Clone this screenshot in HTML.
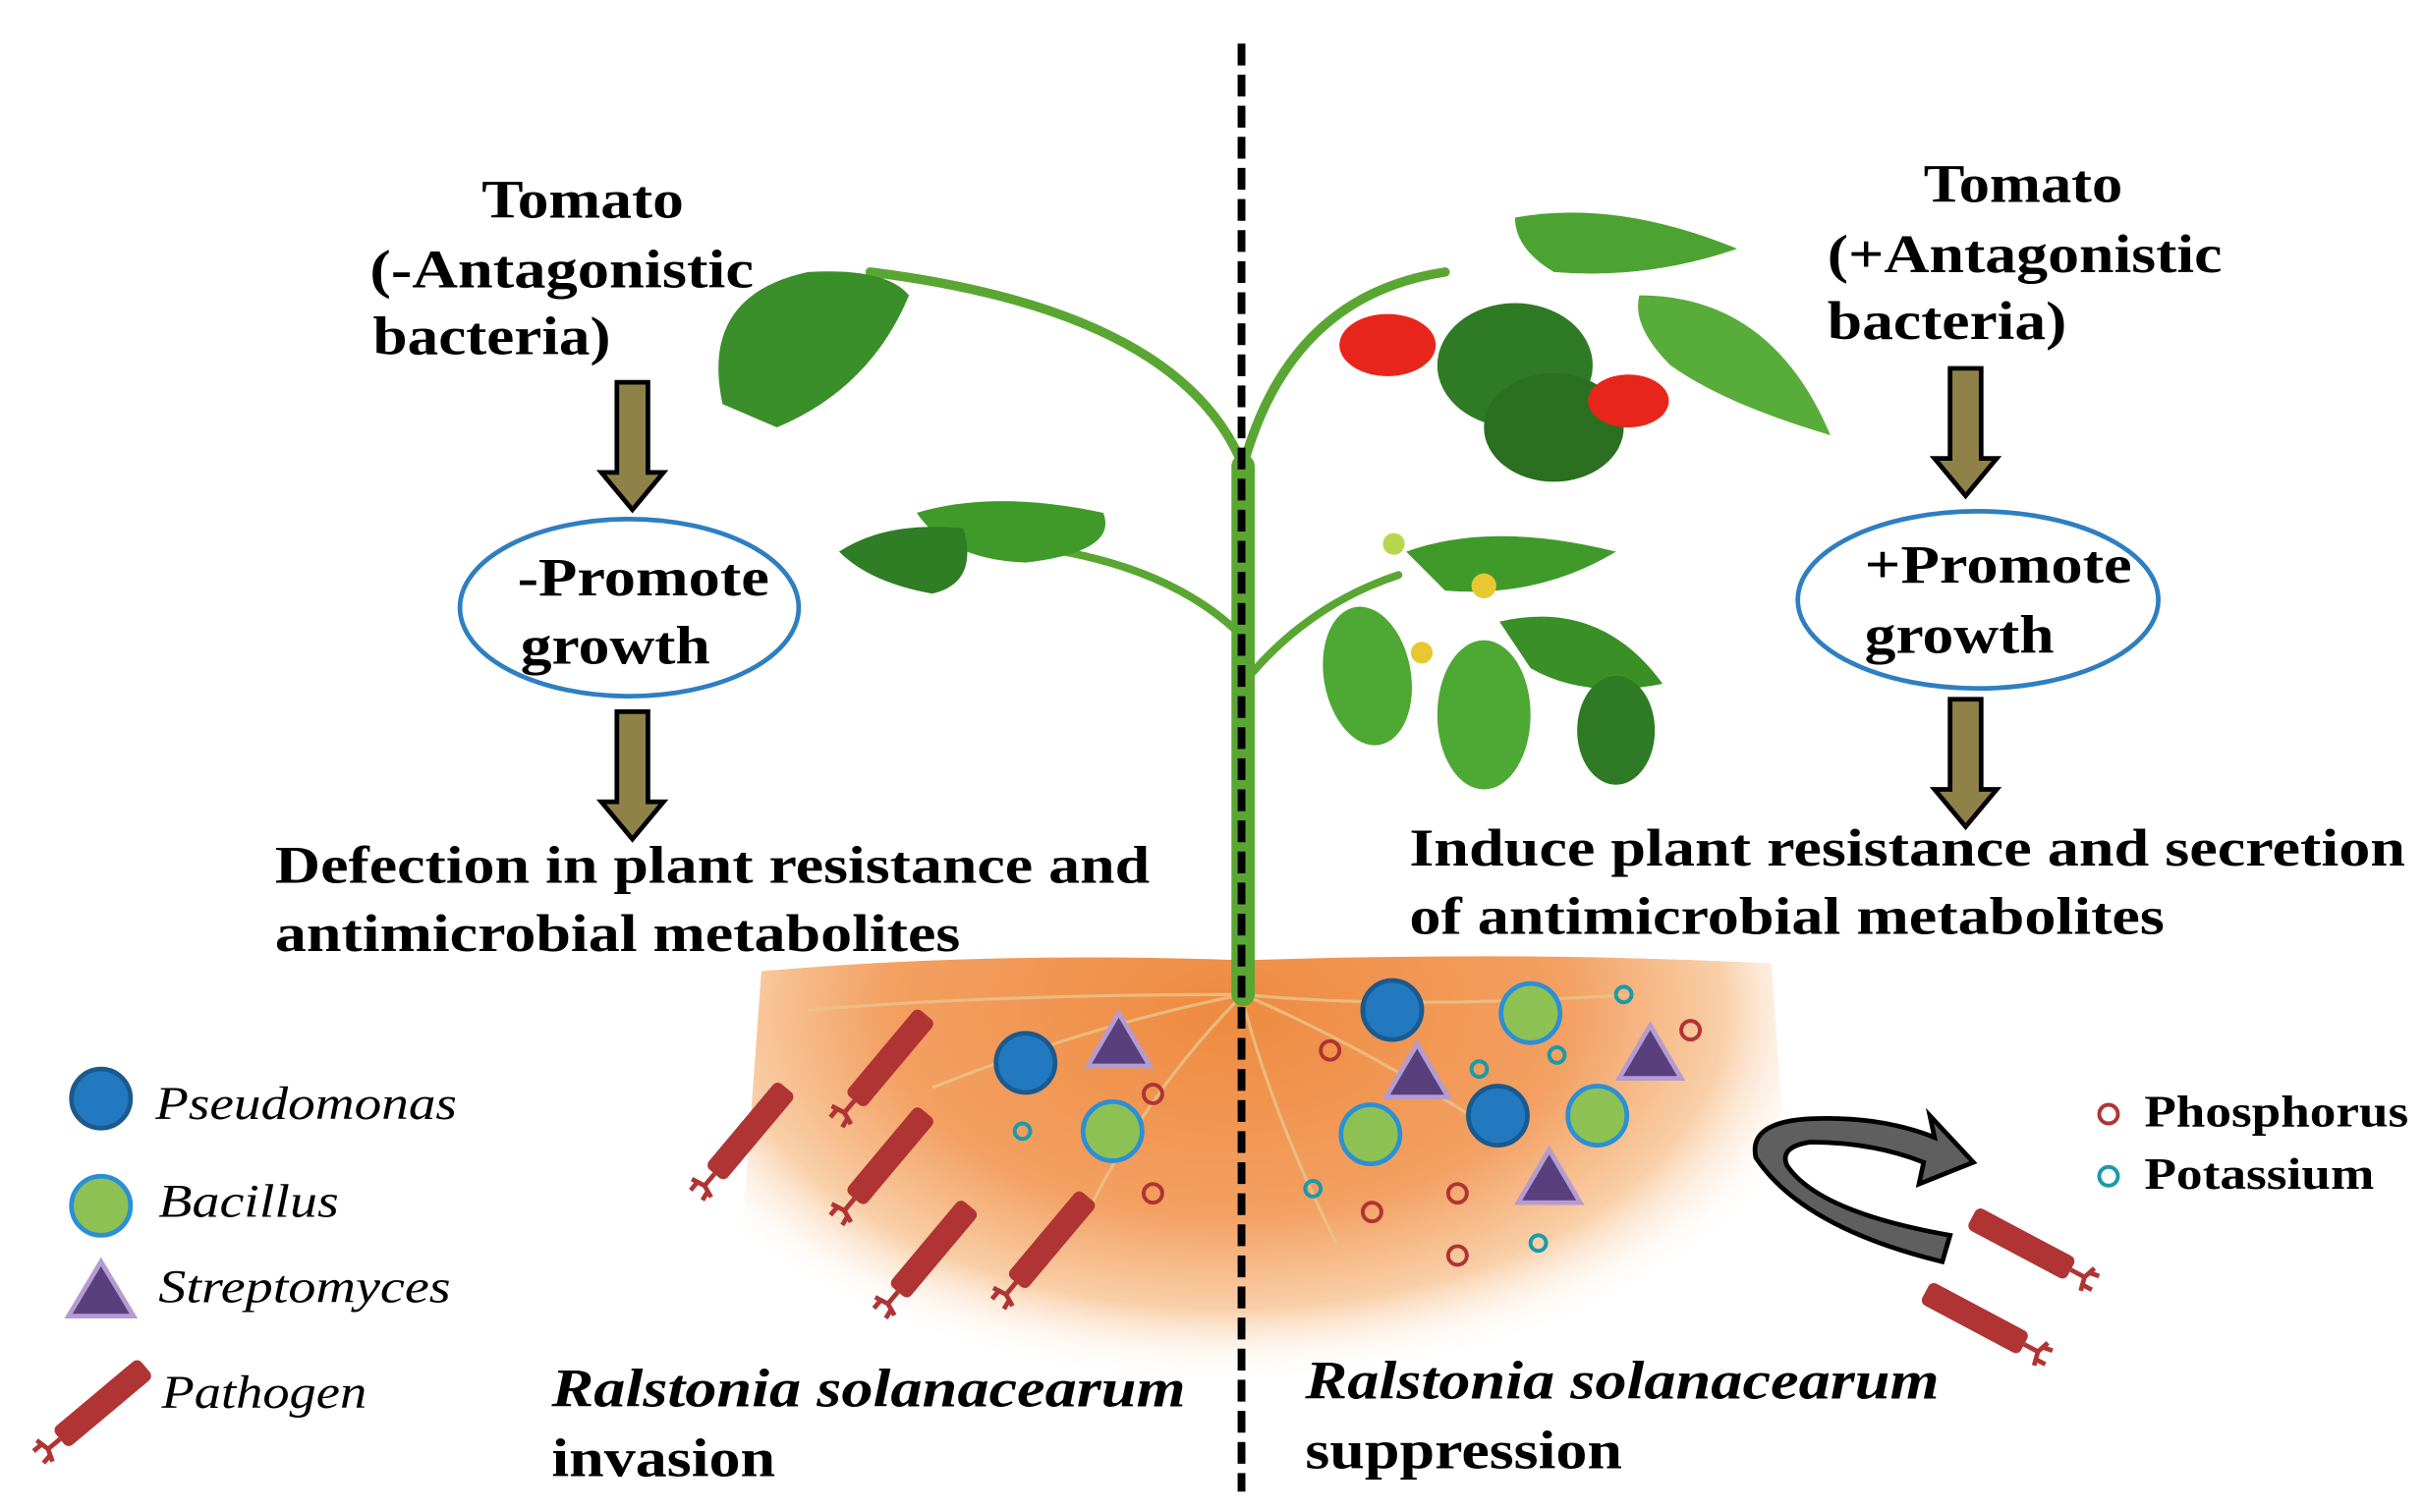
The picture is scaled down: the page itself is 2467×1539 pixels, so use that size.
<!DOCTYPE html>
<html><head><meta charset="utf-8"><style>
html,body{margin:0;padding:0;background:#fff;}
svg{display:block;}
text{font-family:"Liberation Serif",serif;}
.b{font-weight:bold;fill:#000;}
.i{font-style:italic;}
</style></head><body>
<svg width="2467" height="1539" viewBox="0 0 1560 973" xmlns="http://www.w3.org/2000/svg">
<defs>
<radialGradient id="soil" cx="0.5" cy="0.5" r="0.5">
<stop offset="0" stop-color="#ee8a40"/>
<stop offset="0.55" stop-color="#f3a062"/>
<stop offset="0.8" stop-color="#f9cfa8"/>
<stop offset="1" stop-color="#fff" stop-opacity="0"/>
</radialGradient>
<clipPath id="sc"><path d="M490 625 Q640 612 800 618 Q980 612 1140 620 L1160 900 L470 900 Z"/></clipPath>
<g id="path">
<rect x="-8" y="-78" width="16" height="72" rx="4" fill="#b03434"/>
<path d="M0 -6 L0 4 M0 4 L-9 6 M0 4 L8 7 M-5 5 L-5 12 M4 6 L5 12" stroke="#b03434" stroke-width="3" fill="none"/>
</g>
<g id="arrow">
<path d="M-10 0 L10 0 L10 58 L20 58 L0 82 L-20 58 L-10 58 Z" fill="#8f8248" stroke="#000" stroke-width="3"/>
</g>
</defs>

<!-- soil -->
<g clip-path="url(#sc)">
<ellipse cx="790" cy="650" rx="400" ry="240" fill="url(#soil)"/>
</g>
<g stroke="#e9c48b" stroke-width="2" fill="none" opacity="0.8">
<path d="M800 640 Q700 660 600 700 M800 640 Q740 700 700 780 M800 640 Q870 670 950 720 M800 640 Q900 650 1050 640 M800 645 Q820 720 860 800 M800 640 Q640 640 520 650"/>
</g>

<!-- plant stems -->
<g stroke="#5aa632" fill="none" stroke-linecap="round">
<path d="M800 640 L800 300" stroke-width="15"/>
<path d="M800 300 Q760 200 560 175" stroke-width="6"/>
<path d="M800 300 Q830 190 930 175" stroke-width="6"/>
<path d="M800 410 Q750 360 650 350" stroke-width="5"/>
<path d="M800 440 Q840 390 900 370" stroke-width="5"/>
</g>
<!-- leaves -->
<g fill="#3f9a2a">
<path d="M465 260 Q450 190 520 175 Q570 172 585 190 Q560 250 500 275 Z" fill="#3b8f2a"/>
<path d="M590 330 Q640 315 710 330 Q720 355 660 362 Q610 360 590 330 Z"/>
<path d="M540 355 Q570 335 620 340 Q630 375 600 382 Q560 375 540 355 Z" fill="#2f7d25"/>
<path d="M975 140 Q1040 128 1118 160 Q1060 180 1000 175 Q975 160 975 140 Z" fill="#4da332"/>
<ellipse cx="975" cy="235" rx="50" ry="40" fill="#2f7a24"/>
<ellipse cx="1000" cy="275" rx="45" ry="35" fill="#2a7020"/>
<path d="M1055 190 Q1140 190 1178 280 Q1110 260 1075 235 Q1050 210 1055 190 Z" fill="#58ad3a"/>
<path d="M905 355 Q960 335 1040 355 Q990 385 930 380 Z" fill="#3f9a2a"/>
<ellipse cx="880" cy="435" rx="28" ry="45" transform="rotate(-10 880 435)" fill="#4ea834"/>
<path d="M965 400 Q1030 385 1070 440 Q1020 450 985 430 Z" fill="#3a8f27"/>
<ellipse cx="955" cy="460" rx="30" ry="48" fill="#4ea834"/>
<ellipse cx="1040" cy="470" rx="25" ry="35" fill="#2f7a24"/>
</g>
<ellipse cx="893" cy="222" rx="31" ry="20" fill="#e8251a"/>
<ellipse cx="1048" cy="258" rx="26" ry="17" fill="#e8251a"/>
<g fill="#e8c830"><circle cx="955" cy="377" r="8"/><circle cx="915" cy="420" r="7"/><circle cx="897" cy="350" r="7" fill="#b7d84a"/></g>

<!-- dashed line -->
<line x1="799" y1="28" x2="799" y2="960" stroke="#000" stroke-width="5" stroke-dasharray="14 6"/>

<!-- left texts -->
<text class="b" x="310" y="140" font-size="35" textLength="130" lengthAdjust="spacingAndGlyphs">Tomato</text>
<text class="b" x="238" y="185" font-size="35" textLength="247" lengthAdjust="spacingAndGlyphs">(-Antagonistic</text>
<text class="b" x="240" y="228" font-size="35" textLength="153" lengthAdjust="spacingAndGlyphs">bacteria)</text>
<use href="#arrow" x="407" y="246"/>
<ellipse cx="405" cy="391" rx="109" ry="57" fill="none" stroke="#2e7fc1" stroke-width="3"/>
<text class="b" x="333" y="383" font-size="35" textLength="162" lengthAdjust="spacingAndGlyphs">-Promote</text>
<text class="b" x="335" y="427" font-size="35" textLength="122" lengthAdjust="spacingAndGlyphs">growth</text>
<use href="#arrow" x="407" y="458"/>
<text class="b" x="177" y="568" font-size="34" textLength="563" lengthAdjust="spacingAndGlyphs">Defection in plant resistance and</text>
<text class="b" x="177" y="612" font-size="34" textLength="441" lengthAdjust="spacingAndGlyphs">antimicrobial metabolites</text>

<!-- right texts -->
<text class="b" x="1238" y="130" font-size="35" textLength="128" lengthAdjust="spacingAndGlyphs">Tomato</text>
<text class="b" x="1176" y="175" font-size="35" textLength="254" lengthAdjust="spacingAndGlyphs">(+Antagonistic</text>
<text class="b" x="1176" y="218" font-size="35" textLength="154" lengthAdjust="spacingAndGlyphs">bacteria)</text>
<use href="#arrow" x="1265" y="237"/>
<ellipse cx="1273" cy="386" rx="116" ry="57" fill="none" stroke="#2e7fc1" stroke-width="3"/>
<text class="b" x="1200" y="375" font-size="35" textLength="172" lengthAdjust="spacingAndGlyphs">+Promote</text>
<text class="b" x="1200" y="420" font-size="35" textLength="122" lengthAdjust="spacingAndGlyphs">growth</text>
<use href="#arrow" x="1265" y="450"/>
<text class="b" x="907" y="557" font-size="34" textLength="641" lengthAdjust="spacingAndGlyphs">Induce plant resistance and secretion</text>
<text class="b" x="907" y="601" font-size="34" textLength="486" lengthAdjust="spacingAndGlyphs">of antimicrobial metabolites</text>

<!-- left soil organisms -->
<g stroke-width="3">
<circle cx="660" cy="684" r="19" fill="#2379bf" stroke="#1a5a8e"/>
<polygon points="720,652 740,686 700,686" fill="#5a3f7e" stroke="#b49bd0"/>
<circle cx="716" cy="728" r="19" fill="#8dc153" stroke="#2a8fd6"/>
</g>
<g fill="none" stroke-width="2.5">
<circle cx="658" cy="728" r="5" stroke="#1a9aaa"/>
<circle cx="742" cy="704" r="6" stroke="#b03434"/>
<circle cx="742" cy="768" r="6" stroke="#b03434"/>
</g>
<use href="#path" transform="translate(456 760) rotate(40)"/>
<use href="#path" transform="translate(546 713) rotate(40)"/>
<use href="#path" transform="translate(546 776) rotate(40)"/>
<use href="#path" transform="translate(574 836) rotate(40)"/>
<use href="#path" transform="translate(650 830) rotate(40)"/>

<!-- right soil organisms -->
<g stroke-width="3">
<circle cx="896" cy="650" r="19" fill="#2379bf" stroke="#1a5a8e"/>
<circle cx="964" cy="718" r="19" fill="#2379bf" stroke="#1a5a8e"/>
<circle cx="985" cy="652" r="19" fill="#8dc153" stroke="#2a8fd6"/>
<circle cx="882" cy="730" r="19" fill="#8dc153" stroke="#2a8fd6"/>
<circle cx="1028" cy="718" r="19" fill="#8dc153" stroke="#2a8fd6"/>
<polygon points="912,672 932,706 892,706" fill="#5a3f7e" stroke="#b49bd0"/>
<polygon points="1062,660 1082,694 1042,694" fill="#5a3f7e" stroke="#b49bd0"/>
<polygon points="997,740 1017,774 977,774" fill="#5a3f7e" stroke="#b49bd0"/>
</g>
<g fill="none" stroke-width="2.5">
<circle cx="856" cy="676" r="6" stroke="#b03434"/>
<circle cx="1088" cy="663" r="6" stroke="#b03434"/>
<circle cx="938" cy="768" r="6" stroke="#b03434"/>
<circle cx="883" cy="780" r="6" stroke="#b03434"/>
<circle cx="938" cy="808" r="6" stroke="#b03434"/>
<circle cx="1045" cy="640" r="5" stroke="#1a9aaa"/>
<circle cx="952" cy="688" r="5" stroke="#1a9aaa"/>
<circle cx="1002" cy="679" r="5" stroke="#1a9aaa"/>
<circle cx="845" cy="765" r="5" stroke="#1a9aaa"/>
<circle cx="990" cy="800" r="5" stroke="#1a9aaa"/>
</g>

<!-- curved arrow -->
<path d="M1250 812 Q1160 790 1130 745 Q1125 722 1165 720 Q1210 718 1245 732 L1242 718 L1270 748 L1235 762 L1238 748 Q1205 735 1165 735 Q1145 738 1150 750 Q1170 780 1255 795 Z" fill="#5f5f5f" stroke="#000" stroke-width="3"/>
<use href="#path" transform="translate(1338 820) rotate(-62)"/>
<use href="#path" transform="translate(1308 868) rotate(-62)"/>

<!-- nutrient legend -->
<circle cx="1357" cy="717" r="6" fill="none" stroke="#b03434" stroke-width="2.5"/>
<circle cx="1357" cy="757" r="6" fill="none" stroke="#1a9aaa" stroke-width="2.5"/>
<text class="b" x="1380" y="725" font-size="29" textLength="170" lengthAdjust="spacingAndGlyphs">Phosphorus</text>
<text class="b" x="1380" y="765" font-size="29" textLength="148" lengthAdjust="spacingAndGlyphs">Potassium</text>

<!-- legend -->
<circle cx="65" cy="707" r="19" fill="#2379bf" stroke="#1a5a8e" stroke-width="3"/>
<circle cx="65" cy="776" r="19" fill="#8dc153" stroke="#2a8fd6" stroke-width="3"/>
<polygon points="65,812 86,847 44,847" fill="#5a3f7e" stroke="#b49bd0" stroke-width="3"/>
<use href="#path" transform="translate(34 930) rotate(50)"/>
<text class="i" x="100" y="720" font-size="30" textLength="194" lengthAdjust="spacingAndGlyphs">Pseudomonas</text>
<text class="i" x="102" y="783" font-size="30" textLength="116" lengthAdjust="spacingAndGlyphs">Bacillus</text>
<text class="i" x="102" y="838" font-size="30" textLength="188" lengthAdjust="spacingAndGlyphs">Streptomyces</text>
<text class="i" x="104" y="906" font-size="30" textLength="132" lengthAdjust="spacingAndGlyphs">Pathogen</text>

<!-- bottom labels -->
<text class="b i" x="355" y="905" font-size="35" textLength="408" lengthAdjust="spacingAndGlyphs">Ralstonia solanacearum</text>
<text class="b" x="355" y="950" font-size="35" textLength="144" lengthAdjust="spacingAndGlyphs">invasion</text>
<text class="b i" x="840" y="900" font-size="35" textLength="408" lengthAdjust="spacingAndGlyphs">Ralstonia solanacearum</text>
<text class="b" x="840" y="945" font-size="35" textLength="204" lengthAdjust="spacingAndGlyphs">suppression</text>
</svg>
</body></html>
